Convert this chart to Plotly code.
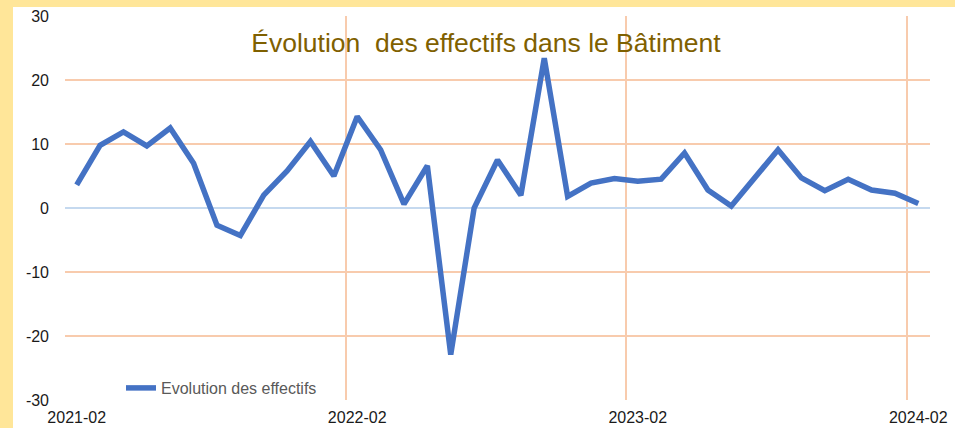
import plotly.graph_objects as go

months = ["2021-02","2021-03","2021-04","2021-05","2021-06","2021-07","2021-08","2021-09","2021-10","2021-11","2021-12","2022-01",
          "2022-02","2022-03","2022-04","2022-05","2022-06","2022-07","2022-08","2022-09","2022-10","2022-11","2022-12","2023-01",
          "2023-02","2023-03","2023-04","2023-05","2023-06","2023-07","2023-08","2023-09","2023-10","2023-11","2023-12","2024-01",
          "2024-02"]
values = [3.6, 9.8, 11.9, 9.7, 12.5, 7.0, -2.7, -4.3, 2.0, 5.8, 10.4, 5.0,
          14.3, 9.1, 0.6, 6.6, -22.9, 0.0, 7.5, 2.0, 23.4, 1.8, 3.9, 4.6,
          4.2, 4.5, 8.6, 2.8, 0.3, 4.7, 9.1, 4.7, 2.7, 4.5, 2.8, 2.3, 0.7]
tick_labels = ["2021-02", "2022-02", "2023-02", "2024-02"]
y_ticks = [-30, -20, -10, 0, 10, 20, 30]
y_tick_text = ["-30", "-20", "-10", "0", "10", "20", "30"]

idx = list(range(len(months)))
label_pos = [months.index(t) for t in tick_labels]
grid_pos = [p - 0.5 for p in label_pos]

fig = go.Figure()
fig.add_trace(go.Scatter(
    x=idx, y=values, mode="lines", name="Evolution des effectifs",
    line=dict(color="#4472C4", width=5.5),
))

W, H = 955, 428
ml, mr, mt, mb = 65, 25, 16, 28
pw, ph = W - ml - mr, H - mt - mb
y_range = [-30, 30]
x_range = [-0.5, len(months) - 0.5]
zero_frac = (0 - y_range[0]) / (y_range[1] - y_range[0])

fig.update_layout(
    width=W, height=H,
    margin=dict(l=ml, r=mr, t=mt, b=mb, pad=0, autoexpand=False),
    paper_bgcolor="#FFE699",
    plot_bgcolor="white",
    font=dict(family="Liberation Sans, Arial, sans-serif", size=16, color="#1a1a1a"),
    title=dict(
        text="Évolution  des effectifs dans le Bâtiment",
        font=dict(size=26.5, color="#7F6000"),
        x=(486 - ml) / pw, xref="paper", xanchor="center",
        y=1 - 43 / H, yref="container", yanchor="middle",
    ),
    showlegend=True,
    legend=dict(
        x=(121 - ml) / pw, xanchor="left",
        y=(400 - 388) / ph, yanchor="middle",
        bgcolor="rgba(0,0,0,0)",
        font=dict(size=16, color="#595959"),
    ),
    shapes=[dict(
        type="rect", xref="paper", yref="paper", layer="below",
        x0=(13 - ml) / pw, x1=2, y0=-1, y1=(H - mb - 7) / ph,
        fillcolor="white", line=dict(width=0),
    )],
    xaxis=dict(
        range=x_range, automargin=False,
        tickmode="array", tickvals=label_pos, ticktext=tick_labels,
        showgrid=False, zeroline=False, showline=False, ticks="",
        minor=dict(tickmode="array", tickvals=grid_pos, showgrid=True,
                   gridcolor="#F8CBAD", gridwidth=1.5, ticks=""),
        ticklabelstandoff=6,
        tickfont=dict(size=16, color="#1a1a1a"),
    ),
    xaxis2=dict(
        overlaying="x", anchor="free", side="bottom",
        position=zero_frac + 5 / ph,
        range=x_range, automargin=False,
        tickmode="array", tickvals=grid_pos, showticklabels=False,
        ticks="outside", ticklen=10, tickwidth=1.5, tickcolor="#C3CAD6",
        showgrid=False, zeroline=False, showline=False,
    ),
    yaxis=dict(
        range=y_range, automargin=False,
        tickmode="array", tickvals=y_ticks, ticktext=y_tick_text,
        showgrid=True, gridcolor="#F8CBAD", gridwidth=1.5,
        zeroline=True, zerolinecolor="#C5D9EF", zerolinewidth=1.5,
        showline=False, ticks="",
        ticklabelstandoff=15,
        tickfont=dict(size=16, color="#1a1a1a"),
    ),
)

fig.write_html(
    "out.html",
    config={"displayModeBar": False},
    post_script="document.body.style.margin='0';document.body.style.overflow='hidden';",
)
